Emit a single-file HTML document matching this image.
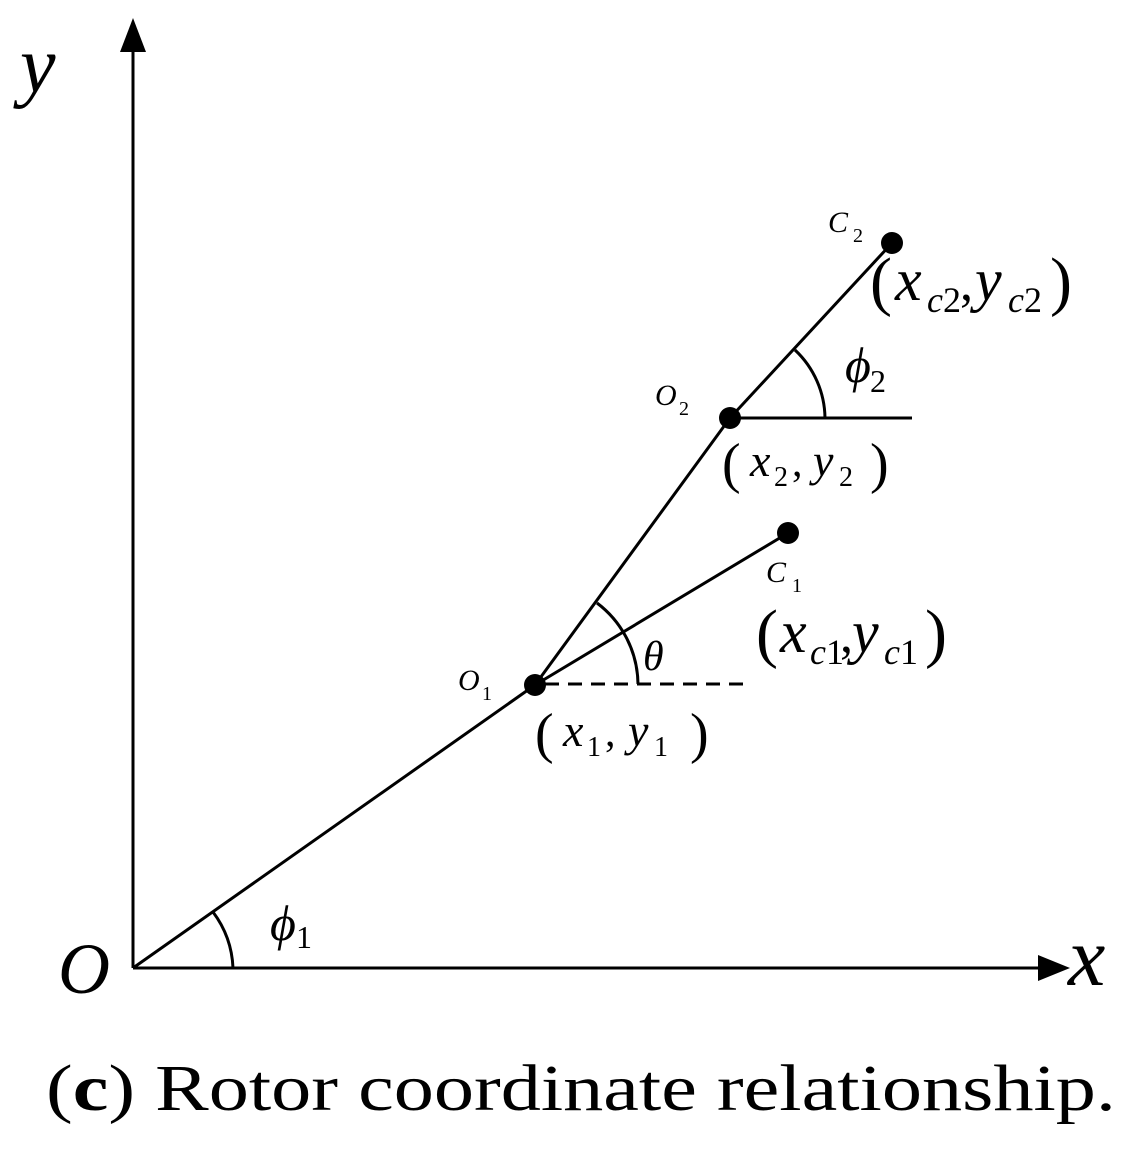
<!DOCTYPE html>
<html><head><meta charset="utf-8"><style>
html,body{margin:0;padding:0;background:#fff;}
svg{display:block;}
text{font-family:"Liberation Serif",serif;fill:#000;}
.i{font-style:italic;}
</style></head><body>
<svg width="1142" height="1154" viewBox="0 0 1142 1154" xmlns="http://www.w3.org/2000/svg">
<g stroke="#000" stroke-width="3" fill="none">
<line x1="133" y1="968" x2="133" y2="45"/>
<line x1="133" y1="968" x2="1045" y2="968"/>
<line x1="133" y1="968" x2="535" y2="685"/>
<line x1="535" y1="685" x2="788" y2="533"/>
<line x1="535" y1="685" x2="730" y2="418"/>
<line x1="730" y1="418" x2="892" y2="243"/>
<line x1="730" y1="418" x2="912" y2="418"/>
<line x1="545" y1="684" x2="745" y2="684" stroke-dasharray="14,9"/>
<path d="M233 968 A100 100 0 0 0 213 912"/>
<path d="M638 684 A103 103 0 0 0 597 603"/>
<path d="M825 418 A95 95 0 0 0 795 350"/>
</g>
<polygon points="133,18 120,52 146,52" fill="#000"/>
<polygon points="1070,968 1038,955 1038,981" fill="#000"/>
<circle cx="535" cy="685" r="11" fill="#000"/>
<circle cx="788" cy="533" r="11" fill="#000"/>
<circle cx="730" cy="418" r="11" fill="#000"/>
<circle cx="892" cy="243" r="11" fill="#000"/>
<text x="20" y="92" font-size="80" class="i">y</text>
<text x="58" y="993" font-size="72" class="i">O</text>
<text x="1068" y="985" font-size="84" class="i">x</text>
<text x="270" y="940" font-size="50" class="i">ϕ</text><text x="296" y="948" font-size="32">1</text>
<text x="643" y="670" font-size="42" class="i">θ</text>
<text x="845" y="382" font-size="50" class="i">ϕ</text><text x="870" y="392" font-size="32">2</text>
<text x="458" y="690" font-size="30" class="i">O</text><text x="482" y="700" font-size="20">1</text>
<text x="655" y="405" font-size="30" class="i">O</text><text x="679" y="415" font-size="20">2</text>
<text x="828" y="232" font-size="30" class="i">C</text><text x="853" y="242" font-size="20">2</text>
<text x="766" y="582" font-size="30" class="i">C</text><text x="792" y="592" font-size="20">1</text>
<text x="535" y="752" font-size="56">(</text><text x="563" y="746" font-size="46" class="i">x</text><text x="587" y="756" font-size="28">1</text><text x="605" y="746" font-size="42">,</text><text x="628" y="746" font-size="46" class="i">y</text><text x="654" y="756" font-size="28">1</text><text x="690" y="752" font-size="56">)</text>
<text x="722" y="482" font-size="56">(</text><text x="750" y="476" font-size="46" class="i">x</text><text x="774" y="486" font-size="28">2</text><text x="792" y="476" font-size="42">,</text><text x="813" y="476" font-size="46" class="i">y</text><text x="839" y="486" font-size="28">2</text><text x="870" y="482" font-size="56">)</text>
<text x="756" y="655" font-size="66">(</text><text x="780" y="652" font-size="60" class="i">x</text><text x="810" y="664" font-size="36" class="i">c</text><text x="826" y="664" font-size="36">1</text><text x="840" y="652" font-size="52">,</text><text x="852" y="652" font-size="60" class="i">y</text><text x="884" y="664" font-size="36" class="i">c</text><text x="900" y="664" font-size="36">1</text><text x="925" y="655" font-size="66">)</text>
<text x="870" y="303" font-size="66">(</text><text x="895" y="300" font-size="60" class="i">x</text><text x="927" y="312" font-size="36" class="i">c</text><text x="943" y="312" font-size="36">2</text><text x="960" y="300" font-size="52">,</text><text x="975" y="300" font-size="60" class="i">y</text><text x="1008" y="312" font-size="36" class="i">c</text><text x="1024" y="312" font-size="36">2</text><text x="1050" y="303" font-size="66">)</text>
<text x="46" y="1110" font-size="66" textLength="1070" lengthAdjust="spacingAndGlyphs">(<tspan font-weight="bold">c</tspan>) Rotor coordinate relationship.</text>
</svg>
</body></html>
